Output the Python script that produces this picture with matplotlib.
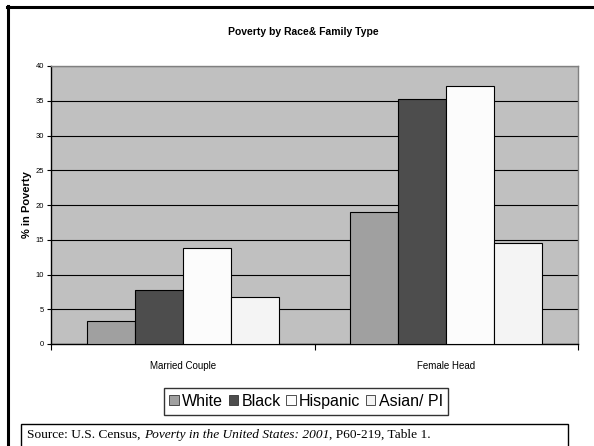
import numpy as np
import matplotlib.pyplot as plt
from matplotlib.patches import Rectangle
from matplotlib.lines import Line2D

# data
categories = ["Married Couple", "Female Head"]
races = ["White", "Black", "Hispanic", "Asian/ PI"]
values = {
    "White": [3.3, 19.0],
    "Black": [7.8, 35.2],
    "Hispanic": [13.8, 37.1],
    "Asian/ PI": [6.7, 14.6],
}
colors = ["#a0a0a0", "#4d4d4d", "#fcfcfc", "#f4f4f4"]
yticks = [0, 5, 10, 15, 20, 25, 30, 35, 40]

W, H = 594, 446
fig = plt.figure(figsize=(W / 100, H / 100), dpi=100)
fig.patch.set_facecolor("white")

sans = ["Liberation Sans", "DejaVu Sans"]
serif = ["Liberation Serif", "DejaVu Serif"]

ax = fig.add_axes([51 / W, 1 - 344 / H, (578 - 51) / W, (344 - 66) / H])
ax.set_facecolor("#c0c0c0")

bw = 1 / 5.5
x = np.arange(len(categories)) + 0.5
handles = []
for i, r in enumerate(races):
    off = (i - 1.5) * bw
    ax.bar(x + off, values[r], width=bw, color=colors[i], edgecolor="black",
           linewidth=0.8, zorder=3)
    handles.append(Rectangle((0, 0), 1, 1, facecolor=colors[i], edgecolor="#333333",
                             linewidth=0.6))

ax.set_xlim(0, len(categories))
ax.set_ylim(0, 40)
ax.set_yticks(yticks)
ax.set_yticklabels([str(t) for t in yticks], fontsize=5.5, family=sans)
ax.yaxis.grid(True, color="black", linewidth=0.8, zorder=1)
ax.set_axisbelow(True)

# category boundaries as ticks, labels in the middle
ax.set_xticks([0, 1, 2])
ax.set_xticklabels([])
ax.set_xticks(x, minor=True)
ax.set_xticklabels(categories, minor=True, fontsize=7, family=sans)
ax.tick_params(axis="x", which="minor", length=0, pad=12.5)
ax.tick_params(axis="x", which="major", length=4, width=0.8, direction="out")
ax.tick_params(axis="y", length=3, width=0.8, pad=2)

for s in ["top", "right"]:
    ax.spines[s].set_color("#808080")
    ax.spines[s].set_linewidth(1)
for s in ["left", "bottom"]:
    ax.spines[s].set_color("black")
    ax.spines[s].set_linewidth(1)

ax.set_ylabel("% in Poverty", fontsize=8, fontweight="bold", family=sans)
ax.yaxis.set_label_coords((32 - 51) / (578 - 51), 0.5)
fig.text(303 / W, 1 - 32 / H, "Poverty by Race& Family Type", ha="center", va="center",
         fontsize=7.5, fontweight="bold", family=sans)

leg = fig.legend(handles, races, loc="center", bbox_to_anchor=(306 / W, 1 - 401.5 / H),
                 ncol=4, frameon=True, fancybox=False, prop={"family": sans, "size": 11.5},
                 handlelength=0.6, handleheight=0.6, handletextpad=0.2, columnspacing=0.35,
                 borderpad=0.35, borderaxespad=0)
leg.get_frame().set_edgecolor("black")
leg.get_frame().set_linewidth(1)

# page border: top and left thick lines
fig.add_artist(Line2D([7 / W, 1], [1 - 7 / H, 1 - 7 / H], color="black", linewidth=2.2))
fig.add_artist(Line2D([8 / W, 8 / W], [0, 1 - 6 / H], color="black", linewidth=2.2))

# source box
fig.add_artist(Rectangle((21 / W, -0.01), (568 - 21) / W, (446 - 424) / H + 0.01,
                         transform=fig.transFigure, facecolor="white",
                         edgecolor="black", linewidth=1))
fs = 9.6
t1 = fig.text(27 / W, 1 - 435 / H, "Source: U.S. Census, ", fontsize=fs, family=serif,
              va="center")
t2 = fig.text(0, 0, "Poverty in the United States: 2001", fontsize=fs, family=serif,
              style="italic", va="bottom")
t3 = fig.text(0, 0, ", P60-219, Table 1.", fontsize=fs, family=serif, va="bottom")

fig.canvas.draw()
r = fig.canvas.get_renderer()
bb1 = t1.get_window_extent(r).transformed(fig.transFigure.inverted())
t2.set_position((bb1.x1, bb1.y0))
bb2 = t2.get_window_extent(r).transformed(fig.transFigure.inverted())
t3.set_position((bb2.x1, bb1.y0))

fig.savefig("out.png", dpi=100)
